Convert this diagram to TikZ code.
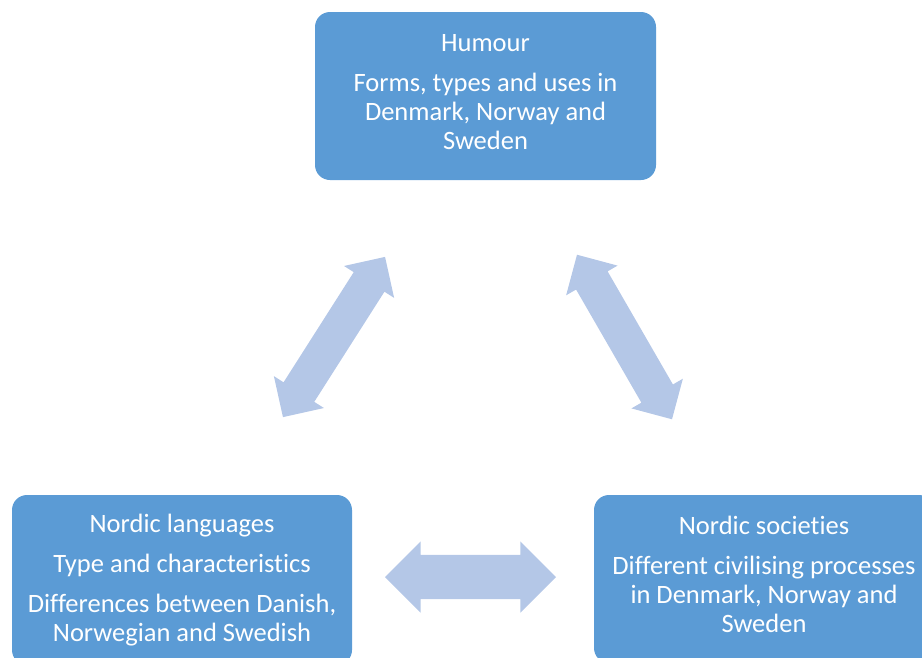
\documentclass[tikz,border=0pt]{standalone}
\usepackage{fontspec}
\setmainfont{Carlito}[Ligatures=NoCommon]
\usetikzlibrary{shapes.arrows}
\definecolor{boxblue}{HTML}{5B9BD5}
\definecolor{arrowblue}{HTML}{B4C7E7}
\tikzset{
  topic/.style={rectangle, rounded corners=15pt, fill=boxblue, text=white,
    align=center, inner sep=0pt, font=\fontsize{26.5}{29}\selectfont},
  link/.style={double arrow, fill=arrowblue, inner xsep=0pt,
    double arrow tip angle=90},
}

\begin{document}
\begin{tikzpicture}[x=1pt,y=1pt]
       \useasboundingbox(0,0)rectangle(922,-657);
       \clip(0,0)rectangle(922,-657);
       % the three topics
       \node[topic, minimum width=341pt, minimum height=168pt, text depth=8pt](Humour)at(485.5,-96)
         {Humour\\[11pt]Forms, types and uses in\\Denmark, Norway and\\Sweden};
       \node[topic, minimum width=340pt, minimum height=170pt](Languages)at(182,-580)
         {Nordic languages\\[11pt]Type and characteristics\\[11pt]Differences between Danish,\\Norwegian and Swedish};
       \node[topic, minimum width=340pt, minimum height=168pt, text depth=10pt](Societies)at(764,-579)
         {Nordic societies\\[11pt]Different civilising processes\\in Denmark, Norway and\\Sweden};
       % the links between them
       \node[link, minimum height=190pt, inner ysep=18pt, double arrow head extend=11.5pt,
         rotate=57.5](HumourLanguages)at(334,-337){};
       \node[link, minimum height=190pt, inner ysep=18pt, double arrow head extend=11.5pt,
         rotate=-60](HumourSocieties)at(624.5,-337){};
       \node[link, minimum height=171pt, inner ysep=22pt, double arrow head extend=13.5pt]
         (LanguagesSocieties)at(470.5,-577){};
      \end{tikzpicture}
\end{document}
